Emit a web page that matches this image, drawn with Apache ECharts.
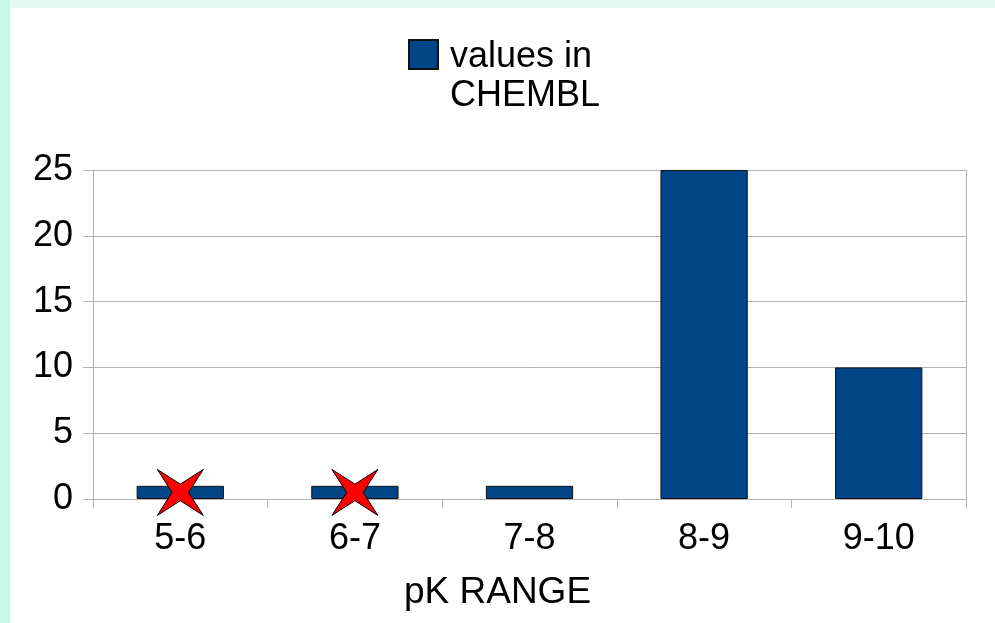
<!DOCTYPE html>
<html>
<head>
<meta charset="utf-8">
<script src="https://cdn.jsdelivr.net/npm/echarts@6/dist/echarts.min.js"></script>
<style>
  html, body { margin: 0; padding: 0; background: #fff; }
  #chart { width: 995px; height: 623px; }
</style>
</head>
<body>
<div id="chart"></div>
<script>
// data
var categories = ['5-6', '6-7', '7-8', '8-9', '9-10'];
var chemblValues = [1, 1, 1, 25, 10];
// red crosses drawn over the first two bars
var crossCats = ['5-6', '6-7'];
var crossVals = [0.5, 0.5];
var yTicks = [0, 5, 10, 15, 20, 25];

var chart = echarts.init(document.getElementById('chart'));

var fontFam = '"Liberation Sans", Arial, sans-serif';
var gridGray = '#b3b3b3';

var crossPath = 'path://M0,0 L50,32 L100,0 L68,50 L100,100 L50,68 L0,100 L32,50 Z';
// legend key: square sitting next to the first text line (tiny points stretch the box to two lines)
var legendIcon = 'path://M0,0 L0.01,0 Z M0,2 L29,2 L29,31 L0,31 Z M0,78 L0.01,78 Z';

var option = {
    backgroundColor: '#ffffff',
    animation: false,
    textStyle: { fontFamily: fontFam, color: '#000' },
    title: {
        text: 'pK RANGE',
        left: 'center',
        top: 569,
        textStyle: { fontFamily: fontFam, fontSize: 37, fontWeight: 'normal', color: '#000' }
    },
    legend: {
        data: ['values in CHEMBL'],
        top: 37,
        left: 408,
        padding: 0,
        icon: legendIcon,
        itemWidth: 29,
        itemHeight: 78,
        formatter: function () {
            return 'values in\nCHEMBL';
        },
        textStyle: {
            fontFamily: fontFam,
            fontSize: 36,
            color: '#000',
            lineHeight: 39,
            padding: [0, 0, 0, 7]
        }
    },
    grid: {
        left: 93,
        right: 29,
        top: 170,
        bottom: 124
    },
    xAxis: {
        type: 'category',
        data: categories,
        axisLine: { show: true, lineStyle: { color: gridGray, width: 1 } },
        axisTick: { show: true, length: 9, lineStyle: { color: gridGray } },
        axisLabel: {
            fontFamily: fontFam,
            fontSize: 36,
            color: '#000',
            margin: 22
        }
    },
    yAxis: [{
        type: 'value',
        min: yTicks[0],
        max: yTicks[yTicks.length - 1],
        interval: 5,
        axisLine: { show: true, lineStyle: { color: gridGray, width: 1 } },
        axisTick: { show: true, length: 10, lineStyle: { color: gridGray } },
        splitLine: { show: true, lineStyle: { color: gridGray, width: 1 } },
        axisLabel: {
            fontFamily: fontFam,
            fontSize: 36,
            color: '#000',
            margin: 20
        }
    }, {
        type: 'value',
        position: 'right',
        min: yTicks[0],
        max: yTicks[yTicks.length - 1],
        interval: 5,
        axisLine: { show: true, lineStyle: { color: gridGray, width: 1 } },
        axisTick: { show: false },
        splitLine: { show: false },
        axisLabel: { show: false }
    }],
    series: [{
        name: 'values in CHEMBL',
        type: 'bar',
        barWidth: '50%',
        data: chemblValues,
        itemStyle: {
            color: '#004586',
            borderColor: '#111',
            borderWidth: 1
        }
    }, {
        name: 'crosses',
        type: 'scatter',
        symbol: crossPath,
        symbolSize: 46,
        data: crossCats.map(function (c, i) { return [c, crossVals[i]]; }),
        itemStyle: {
            color: '#ff0000',
            borderColor: '#000',
            borderWidth: 1,
            opacity: 1
        },
        z: 5
    }],
    graphic: [{
        type: 'rect',
        left: 0,
        top: 0,
        shape: { width: 995, height: 8 },
        style: { fill: '#e2fbf2' },
        silent: true
    }, {
        type: 'rect',
        left: 0,
        top: 0,
        shape: { width: 10, height: 623 },
        style: { fill: '#c6f9e8' },
        silent: true
    }]
};

chart.setOption(option);
</script>
</body>
</html>
